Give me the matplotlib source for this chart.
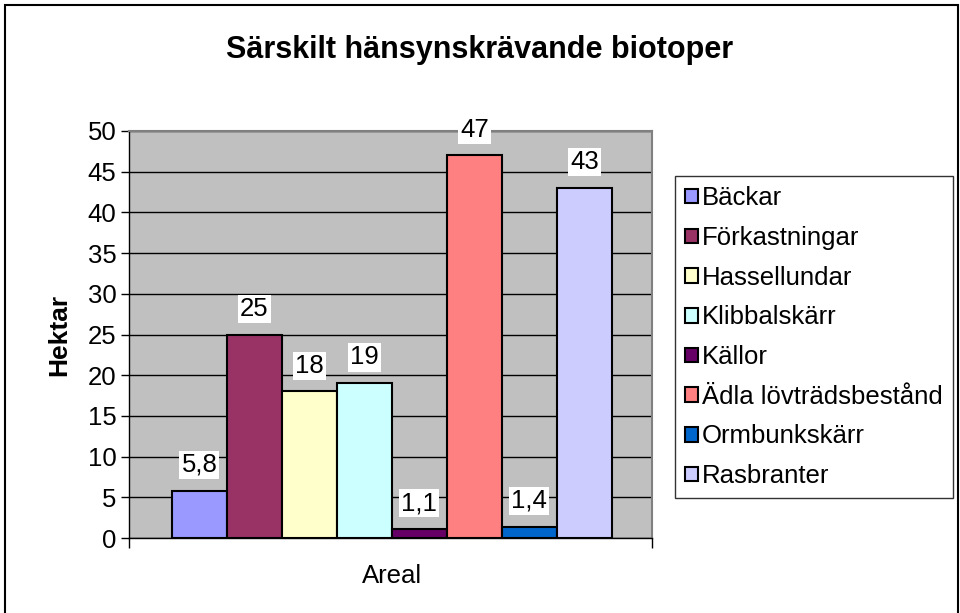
import numpy as np
import matplotlib
matplotlib.use("Agg")
import matplotlib.pyplot as plt
from matplotlib.patches import Rectangle

plt.rcParams['font.family'] = ['Liberation Sans', 'DejaVu Sans']

# Data
categories = ['Bäckar', 'Förkastningar', 'Hassellundar', 'Klibbalskärr',
              'Källor', 'Ädla lövträdsbestånd', 'Ormbunkskärr', 'Rasbranter']
values = [5.8, 25, 18, 19, 1.1, 47, 1.4, 43]
colors = ['#9999FF', '#993366', '#FFFFCC', '#CCFFFF',
          '#660066', '#FF8080', '#0066CC', '#CCCCFF']
group_label = 'Areal'
yticks = np.arange(0, 51, 5)

fig = plt.figure(figsize=(9.6, 6.13), dpi=100)
ax = fig.add_axes([129 / 960, 1 - 538 / 613, 523 / 960, 407 / 613])
ax.set_facecolor('#C0C0C0')

n = len(values)
x = np.arange(n) - (n - 1) / 2
bars = ax.bar(x, values, width=1.0, color=colors, edgecolor='black',
              linewidth=1.5, zorder=3)

# value labels on white boxes, decimal comma
for xi, v in zip(x, values):
    txt = f'{v:g}'.replace('.', ',')
    ax.annotate(txt, (xi, v), xytext=(0, 10), textcoords='offset points',
                ha='center', va='bottom', fontsize=18.5,
                bbox=dict(facecolor='white', edgecolor='none', pad=1.5),
                zorder=4)

ax.set_xlim(-4.78, 4.73)
ax.set_ylim(0, 50)
ax.set_yticks(yticks)
ax.tick_params(axis='y', direction='out', length=6, width=1,
               labelsize=18.5, pad=3)
ax.yaxis.grid(True, color='black', linewidth=1, zorder=1)

ax.set_xticks([0], labels=[group_label])
ax.tick_params(axis='x', which='major', length=0, labelsize=18.5, pad=19)
ax.set_xticks([-4.78, 4.73], minor=True)
ax.tick_params(axis='x', which='minor', direction='out', length=7, width=1)

for side in ['top', 'right']:
    ax.spines[side].set_color('#808080')
    ax.spines[side].set_linewidth(1.5)
for side in ['left', 'bottom']:
    ax.spines[side].set_color('black')
    ax.spines[side].set_linewidth(1)

ax.set_ylabel('Hektar', fontsize=19, fontweight='bold', labelpad=12)

fig.text(480 / 960, 1 - 50 / 613, 'Särskilt hänsynskrävande biotoper',
         ha='center', va='center', fontsize=22, fontweight='bold')

leg = fig.legend(handles=bars.patches, labels=categories,
                 loc='upper left', bbox_to_anchor=(675 / 960, 1 - 176 / 613),
                 fontsize=18.5, frameon=True, fancybox=False, shadow=False,
                 edgecolor='black', handlelength=0.5, handleheight=0.5,
                 handletextpad=0.15, labelspacing=0.61, borderpad=0.4,
                 borderaxespad=0)
leg.get_frame().set_linewidth(1)
for h in leg.legend_handles:
    h.set_linewidth(1.5)

# outer chart border
fig.patches.append(Rectangle((5 / 960, -0.02), 953 / 960, 1 - 5 / 613 + 0.02,
                             transform=fig.transFigure, fill=False,
                             edgecolor='black', linewidth=1.5))

fig.savefig('out.png', dpi=100)
